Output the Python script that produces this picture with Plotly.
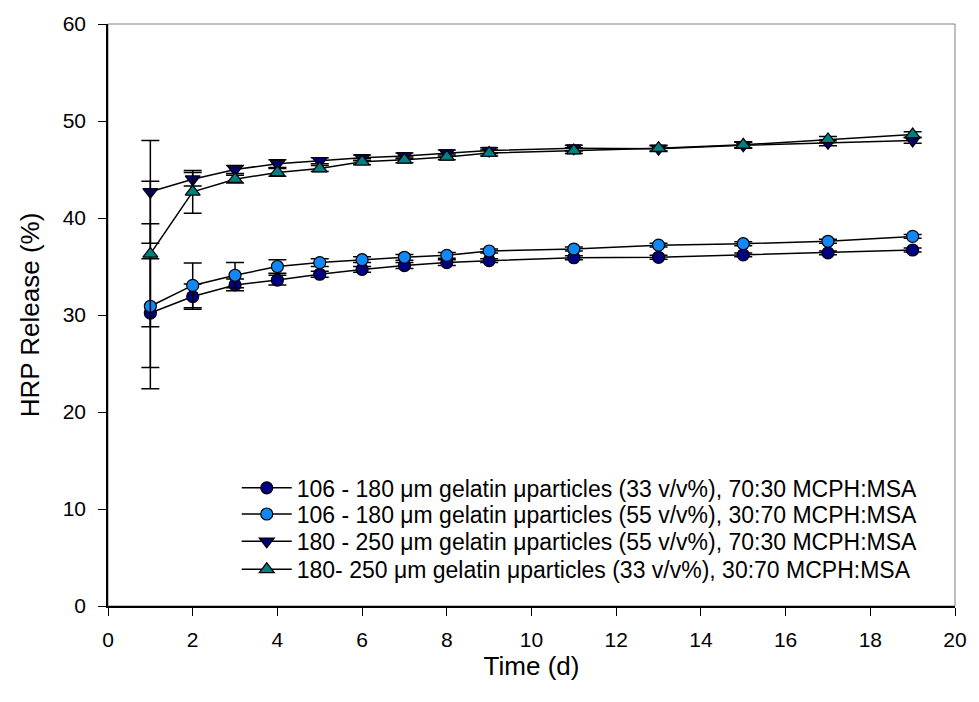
import plotly.graph_objects as go

time_d = [1, 2, 3, 4, 5, 6, 7, 8, 9, 11, 13, 15, 17, 19]

s1_name = "106 - 180 \u03bcm gelatin \u03bcparticles (33 v/v%), 70:30 MCPH:MSA"
s1_y = [30.2, 31.9, 33.1, 33.6, 34.2, 34.7, 35.1, 35.4, 35.6, 35.9, 35.95, 36.2, 36.4, 36.7]
s1_err = [5.6, 1.3, 0.6, 0.5, 0.3, 0.3, 0.3, 0.3, 0.2, 0.2, 0.2, 0.2, 0.2, 0.2]

s2_name = "106 - 180 \u03bcm gelatin \u03bcparticles (55 v/v%), 30:70 MCPH:MSA"
s2_y = [30.9, 33.05, 34.1, 35.0, 35.4, 35.7, 35.95, 36.15, 36.6, 36.8, 37.2, 37.35, 37.6, 38.1]
s2_err = [8.5, 2.3, 1.3, 0.7, 0.4, 0.3, 0.3, 0.3, 0.2, 0.2, 0.2, 0.2, 0.2, 0.2]

s3_name = "180 - 250 \u03bcm gelatin \u03bcparticles (55 v/v%), 70:30 MCPH:MSA"
s3_y = [42.7, 44.0, 45.0, 45.6, 45.9, 46.2, 46.4, 46.7, 46.95, 47.2, 47.15, 47.5, 47.75, 48.0]
s3_err = [5.3, 0.7, 0.4, 0.4, 0.3, 0.3, 0.3, 0.3, 0.3, 0.3, 0.3, 0.3, 0.3, 0.3]

s4_name = "180- 250 \u03bcm gelatin \u03bcparticles (33 v/v%), 30:70 MCPH:MSA"
s4_y = [36.3, 42.7, 44.0, 44.7, 45.1, 45.8, 46.0, 46.3, 46.7, 46.95, 47.2, 47.55, 48.1, 48.6]
s4_err = [7.5, 2.2, 0.4, 0.4, 0.3, 0.3, 0.3, 0.3, 0.3, 0.3, 0.3, 0.3, 0.3, 0.3]

x_ticks = list(range(0, 21, 2))
y_ticks = list(range(0, 61, 10))

series = [
    (s1_name, s1_y, s1_err, "circle", "#000080", 12),
    (s2_name, s2_y, s2_err, "circle", "#1188F5", 12),
    (s3_name, s3_y, s3_err, "triangle-down", "#000070", 13),
    (s4_name, s4_y, s4_err, "triangle-up", "#008080", 13),
]

legend_ids = ["legend", "legend2", "legend3", "legend4"]
legend_y = [0.203, 0.158, 0.111, 0.063]

fig = go.Figure()
for (name, y, err, sym, col, sz), lid in zip(series, legend_ids):
    fig.add_trace(go.Scatter(
        x=time_d, y=y, name=name, mode="lines+markers", legend=lid,
        line=dict(color="black", width=1.5),
        marker=dict(symbol=sym, color=col, size=sz, line=dict(color="black", width=1.2)),
        error_y=dict(type="data", array=err, visible=True, color="black", thickness=1.5, width=9),
    ))

fig.add_shape(type="rect", xref="paper", yref="paper", x0=0, x1=1, y0=0, y1=1,
              line=dict(color="#808080", width=1), layer="below")

legend_style = dict(x=0.152, xanchor="left", yanchor="middle",
                    bgcolor="rgba(0,0,0,0)", font=dict(size=23), itemwidth=50)

layout_legends = {}
for lid, ly in zip(legend_ids, legend_y):
    layout_legends[lid] = dict(legend_style, y=ly)

fig.update_layout(
    width=979, height=702,
    margin=dict(l=108, r=15, t=19, b=96),
    paper_bgcolor="white", plot_bgcolor="white",
    font=dict(family="Liberation Sans, Arial, sans-serif", size=21, color="black"),
    showlegend=True,
    xaxis=dict(range=[0, 20], tickmode="array", tickvals=x_ticks,
               showgrid=False, zeroline=False, showline=True, linecolor="black", linewidth=1.5,
               ticks="outside", ticklen=8, tickwidth=1.2, tickcolor="black",
               ticklabelstandoff=6, tickfont=dict(size=21),
               title=dict(text="Time (d)", font=dict(size=26), standoff=4)),
    yaxis=dict(range=[0, 60], tickmode="array", tickvals=y_ticks,
               showgrid=False, zeroline=False, showline=True, linecolor="black", linewidth=1.5,
               ticks="outside", ticklen=8, tickwidth=1.2, tickcolor="black",
               ticklabelstandoff=8, tickfont=dict(size=21),
               title=dict(text="HRP Release (%)", font=dict(size=26), standoff=16)),
    **layout_legends,
)

fig.write_html("out.html")
